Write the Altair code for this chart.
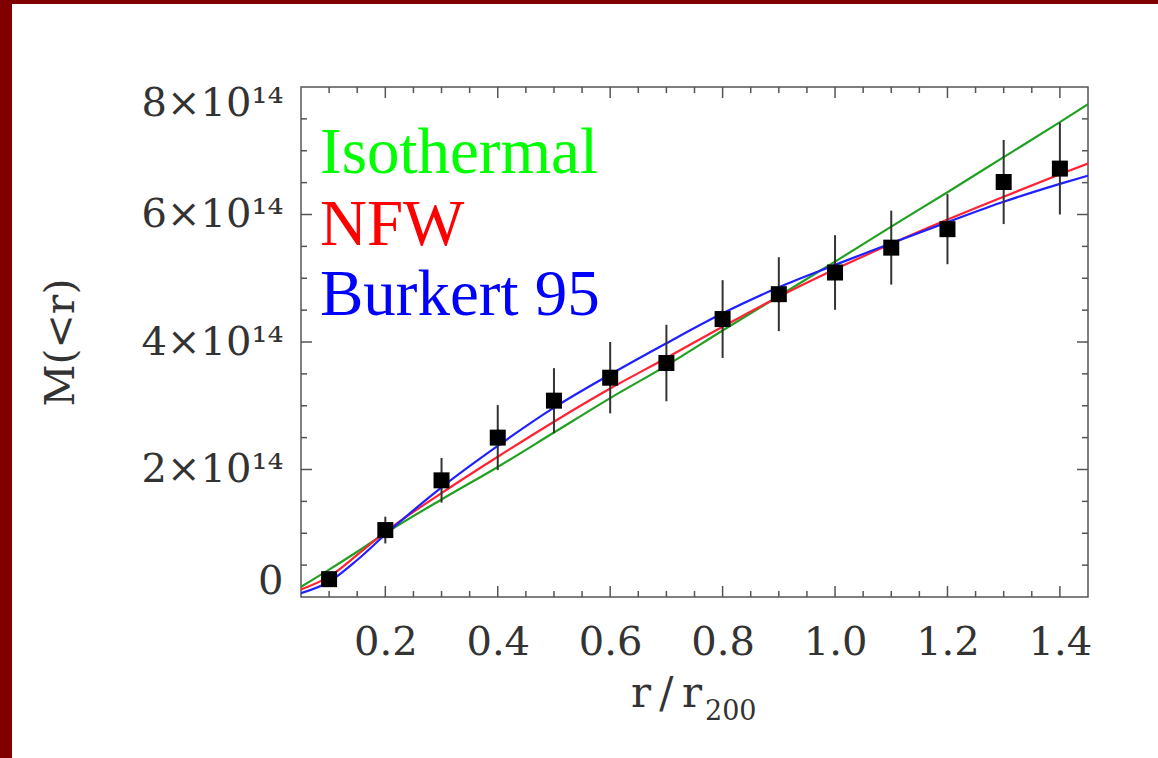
import altair as alt
import pandas as pd

# ---- observed enclosed mass (units of 1e14) ----
r_obs = [0.1, 0.2, 0.3, 0.4, 0.5, 0.6, 0.7, 0.8, 0.9, 1.0, 1.1, 1.2, 1.3, 1.4]
M_obs = [0.28, 1.05, 1.83, 2.50, 3.08, 3.44, 3.67, 4.36, 4.75, 5.09, 5.48, 5.77, 6.51, 6.72]
M_err = [0.08, 0.21, 0.35, 0.51, 0.51, 0.56, 0.60, 0.61, 0.58, 0.585, 0.58, 0.55, 0.66, 0.72]

# ---- model curves (units of 1e14) ----
r_model = [0.05, 0.1, 0.15, 0.2, 0.3, 0.4, 0.5, 0.6, 0.7, 0.8, 0.9, 1.0, 1.1, 1.2, 1.3, 1.4, 1.45]
M_iso = [0.16, 0.43, 0.71, 1.00, 1.53, 2.04, 2.58, 3.12, 3.63, 4.18, 4.72, 5.26, 5.81, 6.35, 6.90, 7.45, 7.73]
M_nfw = [0.12, 0.32, 0.66, 1.02, 1.63, 2.20, 2.75, 3.27, 3.75, 4.24, 4.71, 5.14, 5.54, 5.92, 6.28, 6.63, 6.80]
M_bur = [0.06, 0.24, 0.58, 0.98, 1.72, 2.37, 2.97, 3.49, 3.98, 4.45, 4.86, 5.21, 5.55, 5.88, 6.20, 6.48, 6.61]

model_names = ["Isothermal", "NFW", "Burkert 95"]
line_colors = ["#22a022", "#ff2233", "#2020ff"]
text_colors = ["#00ff00", "#ff0000", "#0000ff"]

x_major = [0.2, 0.4, 0.6, 0.8, 1.0, 1.2, 1.4]
x_minor = [0.1, 0.15, 0.25, 0.3, 0.35, 0.45, 0.5, 0.55, 0.65, 0.7, 0.75, 0.85, 0.9, 0.95,
           1.05, 1.1, 1.15, 1.25, 1.3, 1.35]
y_labels = [0, 2, 4, 6, 8]
y_major = [2, 4, 6]
y_minor = [0.5, 1, 1.5, 2.5, 3, 3.5, 4.5, 5, 5.5, 6.5, 7, 7.5]

W, H = 787, 510
AX = "#555555"
TXT = "#333333"
SERIF = "DejaVu Serif"
BORDER = "#800000"

xs = alt.Scale(domain=[0.05, 1.45], nice=False, zero=False)
ys = alt.Scale(domain=[0, 8], nice=False, zero=False)

x_axis = alt.Axis(values=x_major, format=".1f", labelFont=SERIF, labelFontSize=40,
                  labelColor=TXT, labelPadding=25, ticks=False, tickSize=0,
                  domain=False, grid=False, title=None, labelFlush=False)
y_axis = alt.Axis(values=y_labels,
                  labelExpr="datum.value == 0 ? '0' : datum.value + '×10¹⁴'",
                  labelFont=SERIF, labelFontSize=40, labelColor=TXT,
                  labelPadding=18, ticks=False, tickSize=0, domain=False, grid=False,
                  labelFlush=True, labelFlushOffset=4,
                  title="M(<r)", titleFont=SERIF, titleFontSize=41, titleFontWeight="normal",
                  titleColor=TXT, titleAngle=-90, titleX=-240, titleY=255,
                  titleBaseline="middle", titleAlign="center")


def X(field):
    return alt.X(field, type="quantitative", scale=xs, axis=x_axis)


def Y(field):
    return alt.Y(field, type="quantitative", scale=ys, axis=y_axis)


obs = pd.DataFrame({"r": r_obs, "M": M_obs, "err": M_err})
obs["lo"] = obs["M"] - obs["err"]
obs["hi"] = obs["M"] + obs["err"]

curves = pd.concat([
    pd.DataFrame({"r": r_model, "M": M_iso, "model": model_names[0]}),
    pd.DataFrame({"r": r_model, "M": M_nfw, "model": model_names[1]}),
    pd.DataFrame({"r": r_model, "M": M_bur, "model": model_names[2]}),
])

one = pd.DataFrame({"a": [0]})

lines = alt.Chart(curves).mark_line(strokeWidth=2.2, interpolate="monotone", clip=True).encode(
    x=X("r"), y=Y("M"),
    color=alt.Color("model:N", scale=alt.Scale(domain=model_names, range=line_colors), legend=None),
)

errs = alt.Chart(obs).mark_rule(color=TXT, strokeWidth=2).encode(
    x=X("r"), y=Y("lo"), y2="hi:Q")

pts = alt.Chart(obs).mark_square(size=256, color="black", opacity=1).encode(
    x=X("r"), y=Y("M"))

# slide border strips (left and top)
strip_left = alt.Chart(one).mark_rect(color=BORDER).encode(
    x=alt.value(-301), x2=alt.value(-289), y=alt.value(-87), y2=alt.value(671))
strip_top = alt.Chart(one).mark_rect(color=BORDER).encode(
    x=alt.value(-301), x2=alt.value(857), y=alt.value(-87), y2=alt.value(-83))


def xticks(vals, length):
    d = pd.DataFrame({"r": vals})
    b = alt.Chart(d).mark_rule(color=AX, strokeWidth=1.5).encode(
        x=X("r"), y=alt.value(H), y2=alt.value(H - length))
    t = alt.Chart(d).mark_rule(color=AX, strokeWidth=1.5).encode(
        x=X("r"), y=alt.value(0), y2=alt.value(length))
    return [b, t]


def yticks(vals, length):
    d = pd.DataFrame({"M": vals})
    l = alt.Chart(d).mark_rule(color=AX, strokeWidth=1.5).encode(
        y=Y("M"), x=alt.value(0), x2=alt.value(length))
    r = alt.Chart(d).mark_rule(color=AX, strokeWidth=1.5).encode(
        y=Y("M"), x=alt.value(W), x2=alt.value(W - length))
    return [l, r]


ticks = xticks(x_major, 11) + xticks(x_minor, 6) + yticks(y_major, 11) + yticks(y_minor, 6)

legend_y = [86, 158, 228]
legend = [
    alt.Chart(one).mark_text(text=name, color=col, font="Liberation Serif", fontSize=65,
                             align="left", baseline="alphabetic").encode(
        x=alt.value(19), y=alt.value(yy))
    for name, col, yy in zip(model_names, text_colors, legend_y)
]

xt1 = alt.Chart(one).mark_text(text="r\u2009/\u2009r", font=SERIF, fontSize=42, color=TXT,
                               align="right", baseline="alphabetic").encode(
    x=alt.value(401), y=alt.value(620))
xt2 = alt.Chart(one).mark_text(text="200", font=SERIF, fontSize=27, color=TXT,
                               align="left", baseline="alphabetic").encode(
    x=alt.value(404), y=alt.value(633))

chart = alt.layer(lines, errs, pts, strip_left, strip_top, *ticks, *legend, xt1, xt2).properties(
    width=W, height=H, background="white", autosize="none",
    padding={"left": 301, "top": 87, "right": 70, "bottom": 161},
).configure_view(stroke=AX, strokeWidth=1.5)

chart.save("out.html", embed_options={"renderer": "svg", "actions": False})
